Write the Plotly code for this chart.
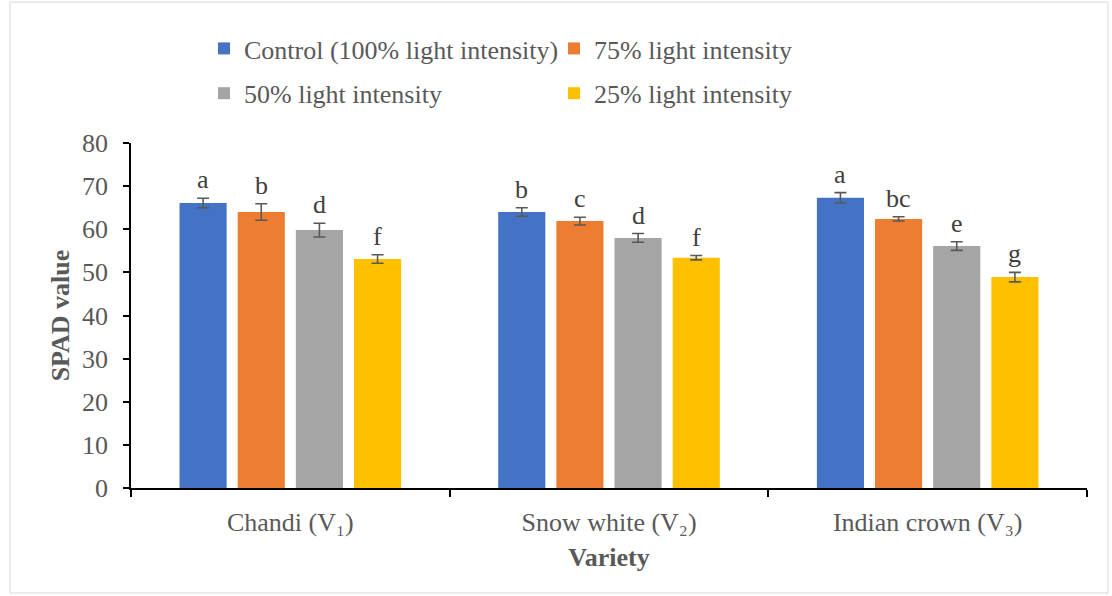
import plotly.graph_objects as go

varieties = ["Chandi (V\u2081)", "Snow white (V\u2082)", "Indian crown (V\u2083)"]
series_names = ["Control (100% light intensity)", "75% light intensity",
                "50% light intensity", "25% light intensity"]
control = [66.1, 64.0, 67.3]
light75 = [64.0, 61.9, 62.4]
light50 = [59.8, 58.0, 56.1]
light25 = [53.1, 53.4, 48.9]
err_control = [1.1, 1.0, 1.2]
err_75 = [1.9, 0.9, 0.5]
err_50 = [1.6, 1.0, 1.0]
err_25 = [1.0, 0.5, 1.1]
letters_control = ["a", "b", "a"]
letters_75 = ["b", "c", "bc"]
letters_50 = ["d", "d", "e"]
letters_25 = ["f", "f", "g"]

values = [control, light75, light50, light25]
errors = [err_control, err_75, err_50, err_25]
letters = [letters_control, letters_75, letters_50, letters_25]
colors = ["#4472C4", "#ED7D31", "#A5A5A5", "#FFC000"]
legend_ids = ["legend", "legend2", "legend", "legend2"]

SERIF = "Times New Roman, Liberation Serif, DejaVu Serif, serif"

W, H = 1112, 596
ml, mr, mt, mb = 131, 25, 143, 108
pw = W - ml - mr
ph = H - mt - mb
bargap = 0.27
bargroupgap = 0.19

fig = go.Figure()
for i in range(4):
    fig.add_trace(go.Bar(
        x=varieties, y=values[i], name=series_names[i],
        marker=dict(color=colors[i], line=dict(width=0)),
        error_y=dict(type="data", array=errors[i], color="#595959", thickness=1.6, width=6),
        legend=legend_ids[i], legendgroup=series_names[i],
    ))

cat_w = pw / len(varieties)
slot = cat_w * (1 - bargap) / 4
annotations = []
for i in range(4):
    xshift = (i - 1.5) * slot
    for j, v in enumerate(varieties):
        annotations.append(dict(
            x=v, y=values[i][j] + errors[i][j], xref="x", yref="y",
            text=letters[i][j], showarrow=False, xshift=xshift, yshift=2,
            yanchor="bottom", xanchor="center",
            font=dict(family=SERIF, size=26, color="#404040")))

legend_font = dict(family=SERIF, size=26, color="#595959")
fig.update_layout(
    width=W, height=H,
    margin=dict(l=ml, r=mr, t=mt, b=mb),
    paper_bgcolor="white", plot_bgcolor="white",
    barmode="group", bargap=bargap, bargroupgap=bargroupgap,
    font=dict(family=SERIF, size=26, color="#595959"),
    annotations=annotations,
    legend=dict(x=(204 - ml) / pw, y=(488 - 25) / ph,
                xanchor="left", yanchor="top", orientation="v",
                traceorder="grouped", tracegroupgap=8,
                font=legend_font, bgcolor="rgba(0,0,0,0)"),
    legend2=dict(x=(554 - ml) / pw, y=(488 - 25) / ph,
                 xanchor="left", yanchor="top", orientation="v",
                 traceorder="grouped", tracegroupgap=8,
                 font=legend_font, bgcolor="rgba(0,0,0,0)"),
    shapes=[dict(type="rect", xref="paper", yref="paper",
                 x0=(10 - ml) / pw, x1=(1108 - ml) / pw,
                 y0=(488 - 593) / ph, y1=(488 - 2) / ph,
                 line=dict(color="#D9D9D9", width=1), fillcolor="rgba(0,0,0,0)",
                 layer="below")],
)

fig.update_yaxes(range=[0, 80], dtick=10, showline=True, linecolor="black", linewidth=1.5,
                 ticks="outside", ticklen=6, tickcolor="black", tickwidth=1.5,
                 ticklabelstandoff=10,
                 showgrid=False, zeroline=False,
                 tickfont=dict(family=SERIF, size=26, color="#595959"),
                 title=dict(text="<b>SPAD value</b>", standoff=5,
                            font=dict(family=SERIF, size=26, color="#595959")))
fig.update_xaxes(showline=True, linecolor="black", linewidth=1.5,
                 ticks="outside", tickson="boundaries", ticklen=7, tickcolor="black", tickwidth=1.5,
                 ticklabelstandoff=10,
                 showgrid=False,
                 tickfont=dict(family=SERIF, size=26, color="#595959"),
                 title=dict(text="<b>Variety</b>", standoff=12,
                            font=dict(family=SERIF, size=26, color="#595959")))

fig.write_html("out.html")
